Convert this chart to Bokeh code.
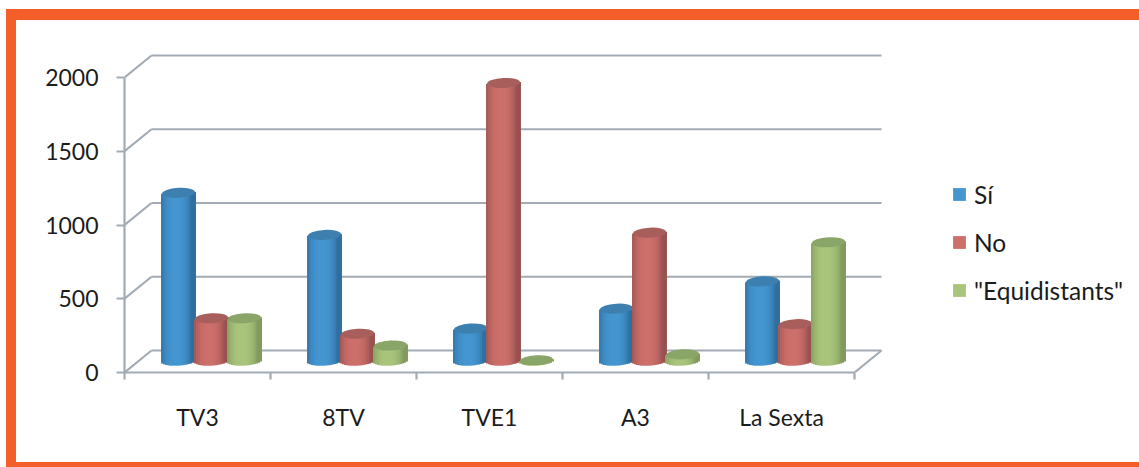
from bokeh.plotting import figure
from bokeh.models import FixedTicker, Legend, LegendItem, Range1d
from bokeh.embed import file_html
from bokeh.resources import INLINE
import numpy as np

categories = ["TV3", "8TV", "TVE1", "A3", "La Sexta"]
si = [1140, 855, 220, 355, 540]
no = [290, 185, 1885, 870, 250]
equidistants = [290, 105, 5, 45, 805]
series_names = ["Sí", "No", "\"Equidistants\""]
y_ticks = [0, 500, 1000, 1500, 2000]

colors = ["#4496d1", "#cd6f6a", "#a9c47b"]
edge = ["#2f6e9e", "#965250", "#7f9a5c"]
tops = ["#3d7fae", "#a85f5c", "#8aa568"]
AXIS = "#a2abb3"
ORANGE = "#f35e2b"
FONT = "Lato"
TEXT = "#1c1c1c"

PX_X = 146.0
PX_Y = 0.1475
DX, DY = 27 / PX_X, 22 / PX_Y
BASE = 78.0
BAR = 33 / PX_X
START = 37.5 / PX_X
HALF_H = 4.5 / PX_Y
TILT = 1.0 / PX_Y
N = 17

# canvas sits inside the orange frame: content box x 16.., y 20..462
W, H = 1123, 442
L, T = 108, 20
FRAME_W, FRAME_H = 1015, 332
R, B = W + 10 - L - FRAME_W, H + 16 - T - FRAME_H
p = figure(width=W, height=H, output_backend="svg", toolbar_location=None,
           x_range=Range1d(0, FRAME_W / PX_X),
           y_range=Range1d(0, FRAME_H / PX_Y),
           min_border_left=L, min_border_right=R, min_border_top=T, min_border_bottom=B,
           x_axis_location="below", margin=(9, 0, 0, 6),
           styles={"border-left": f"10px solid {ORANGE}", "border-top": f"11px solid {ORANGE}",
                   "border-bottom": f"5px solid {ORANGE}", "box-sizing": "content-box"})
p.xgrid.visible = False
p.ygrid.visible = False
p.outline_line_color = None
p.background_fill_color = "white"
p.border_fill_color = "white"

# back wall, floor and the side edges
xs0, ys0, xs1, ys1 = [], [], [], []
for v in y_ticks:
    xs0 += [0, DX]; ys0 += [v, v + DY]
    xs1 += [DX, 5 + DX]; ys1 += [v + DY, v + DY]
xs0.append(5); ys0.append(0); xs1.append(5 + DX); ys1.append(DY)
p.segment(xs0, ys0, xs1, ys1, line_color=AXIS, line_width=2.2)

# axes
ax = p.yaxis[0]
ax.ticker = FixedTicker(ticks=y_ticks)
ax.bounds = (0, 2000)
ax.axis_line_color = AXIS; ax.axis_line_width = 2.2
ax.major_tick_line_color = AXIS; ax.major_tick_line_width = 2.2
ax.major_tick_in = 0; ax.major_tick_out = 8
ax.minor_tick_line_color = None
ax.major_label_standoff = 18
ax.major_label_text_font = FONT; ax.major_label_text_font_size = "23px"
ax.major_label_text_color = TEXT

bx = p.xaxis[0]
centers = [i + 0.5 for i in range(len(categories))]
bx.ticker = FixedTicker(ticks=centers, minor_ticks=list(range(len(categories) + 1)))
bx.major_label_overrides = {c: n for c, n in zip(centers, categories)}
bx.bounds = (0, 5)
bx.axis_line_color = AXIS; bx.axis_line_width = 2.2
bx.major_tick_line_color = None
bx.minor_tick_line_color = AXIS; bx.minor_tick_line_width = 2.2
bx.minor_tick_in = 0; bx.minor_tick_out = 7
bx.major_label_standoff = 23
bx.major_label_text_font = FONT; bx.major_label_text_font_size = "23px"
bx.major_label_text_color = TEXT


def mix(a, b, t):
    ca = [int(a[i:i + 2], 16) for i in (1, 3, 5)]
    cb = [int(b[i:i + 2], 16) for i in (1, 3, 5)]
    return "#%02x%02x%02x" % tuple(int(round(x + (y - x) * t)) for x, y in zip(ca, cb))


legend_items = []
for s, vals in enumerate([si, no, equidistants]):
    xc = np.arange(len(vals)) + START + BAR / 2 + s * BAR
    us = (np.arange(N) + 0.5) / N * 2 - 1
    sx, st, sb, sc = [], [], [], []
    for x, v in zip(xc, vals):
        for u in us:
            sx.append(x + u * BAR / 2)
            st.append(BASE + v + u * TILT)
            sb.append(BASE + u * TILT - np.sqrt(1 - u * u) * HALF_H)
            sc.append(mix(colors[s], edge[s], min(1.0, abs(u + 0.1) ** 2.6 * 1.1)))
    strips = p.vbar(x=sx, top=st, bottom=sb, width=BAR / N * 2.0, fill_color=sc, line_color=None)
    p.ellipse(x=list(xc), y=[BASE + v for v in vals], width=33, height=10,
              width_units="screen", height_units="screen", angle=0.055,
              fill_color=tops[s], line_color=None)
    legend_items.append(LegendItem(label=series_names[s], renderers=[strips], index=N // 2))

legend = Legend(items=legend_items, location=(827, 67), orientation="vertical",
                glyph_width=16, glyph_height=16, label_height=30, label_standoff=7,
                spacing=18, padding=0, margin=0,
                background_fill_alpha=0, border_line_color=None,
                label_text_font=FONT, label_text_font_size="24.5px", label_text_color=TEXT)
p.add_layout(legend)

open("out.html", "w").write(file_html(p, INLINE))
